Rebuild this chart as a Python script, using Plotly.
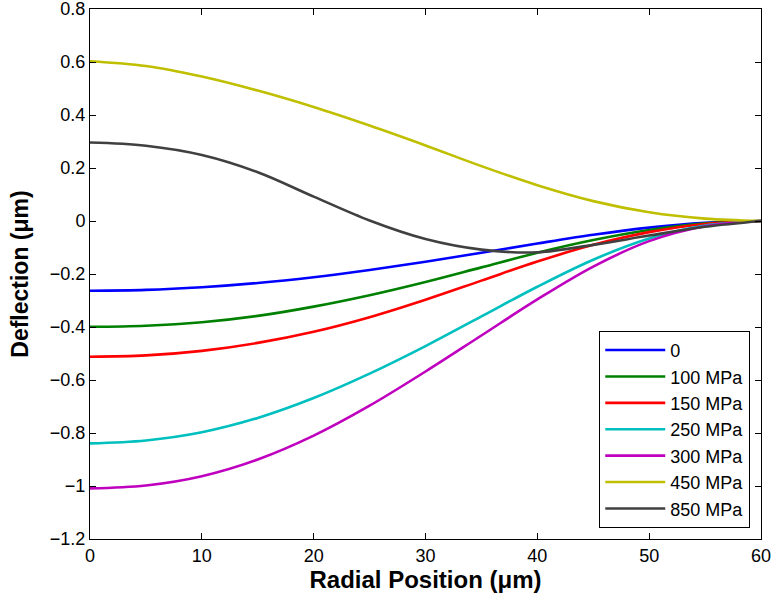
import plotly.graph_objects as go

radial_position = [0, 5, 10, 15, 20, 25, 30, 35, 40, 45, 50, 55, 60]

series_names = ["0", "100 MPa", "150 MPa", "250 MPa", "300 MPa", "450 MPa", "850 MPa"]
series_colors = ["#0000ff", "#008000", "#ff0000", "#00bfbf", "#bf00bf", "#bfbf00", "#404040"]

defl_0 = [-0.263, -0.260, -0.250, -0.234, -0.212, -0.185, -0.154, -0.120, -0.085, -0.052, -0.025, -0.007, 0.0]
defl_100 = [-0.399, -0.395, -0.382, -0.358, -0.323, -0.280, -0.230, -0.175, -0.120, -0.072, -0.034, -0.009, 0.0]
defl_150 = [-0.512, -0.507, -0.490, -0.460, -0.418, -0.363, -0.297, -0.225, -0.153, -0.090, -0.042, -0.011, 0.0]
defl_250 = [-0.839, -0.828, -0.797, -0.743, -0.668, -0.576, -0.472, -0.360, -0.248, -0.146, -0.066, -0.017, 0.0]
defl_300 = [-1.009, -0.998, -0.963, -0.900, -0.810, -0.697, -0.568, -0.432, -0.296, -0.172, -0.076, -0.020, 0.0]
defl_450 = [0.603, 0.585, 0.545, 0.492, 0.430, 0.360, 0.285, 0.207, 0.135, 0.075, 0.033, 0.009, 0.0]
defl_850 = [0.296, 0.284, 0.249, 0.184, 0.092, 0.002, -0.068, -0.108, -0.118, -0.090, -0.055, -0.022, 0.0]

all_series = [defl_0, defl_100, defl_150, defl_250, defl_300, defl_450, defl_850]

x_ticks = [0, 10, 20, 30, 40, 50, 60]
y_ticks = [-1.2, -1.0, -0.8, -0.6, -0.4, -0.2, 0, 0.2, 0.4, 0.6, 0.8]
y_tick_text = ["\u22121.2", "\u22121", "\u22120.8", "\u22120.6", "\u22120.4", "\u22120.2", "0", "0.2", "0.4", "0.6", "0.8"]

fig = go.Figure()
for name, color, vals in zip(series_names, series_colors, all_series):
    fig.add_trace(go.Scatter(
        x=radial_position, y=vals, mode="lines", name=name,
        line=dict(color=color, width=2.6, shape="spline", smoothing=1.0),
    ))

font_family = "Liberation Sans, Arial, sans-serif"

fig.update_layout(
    width=773, height=600,
    margin=dict(l=90, r=12, t=9, b=61),
    plot_bgcolor="white", paper_bgcolor="white",
    font=dict(family=font_family, size=18, color="black"),
    showlegend=True,
    legend=dict(
        x=0.984, y=0.021, xanchor="right", yanchor="bottom",
        bgcolor="white", bordercolor="black", borderwidth=1,
        font=dict(family=font_family, size=18, color="black"),
        tracegroupgap=0, itemwidth=60,
    ),
    xaxis=dict(
        range=[0, 60], tickvals=x_ticks, ticks="inside", ticklen=6, tickcolor="black",
        showline=True, linecolor="black", linewidth=1, mirror="ticks",
        showgrid=False, zeroline=False, automargin=False, ticklabeloverflow="allow",
        tickfont=dict(family=font_family, size=18),
        title=dict(text="<b>Radial Position (\u03bcm)</b>", font=dict(family=font_family, size=24), standoff=2),
    ),
    yaxis=dict(
        range=[-1.2, 0.8], tickvals=y_ticks, ticktext=y_tick_text,
        ticks="inside", ticklen=6, tickcolor="black",
        showline=True, linecolor="black", linewidth=1, mirror="ticks",
        showgrid=False, zeroline=False, automargin=False, ticklabeloverflow="allow",
        tickfont=dict(family=font_family, size=18),
        title=dict(text="<b>Deflection (\u03bcm)</b>", font=dict(family=font_family, size=23), standoff=14),
    ),
)

fig.write_html("out.html")
